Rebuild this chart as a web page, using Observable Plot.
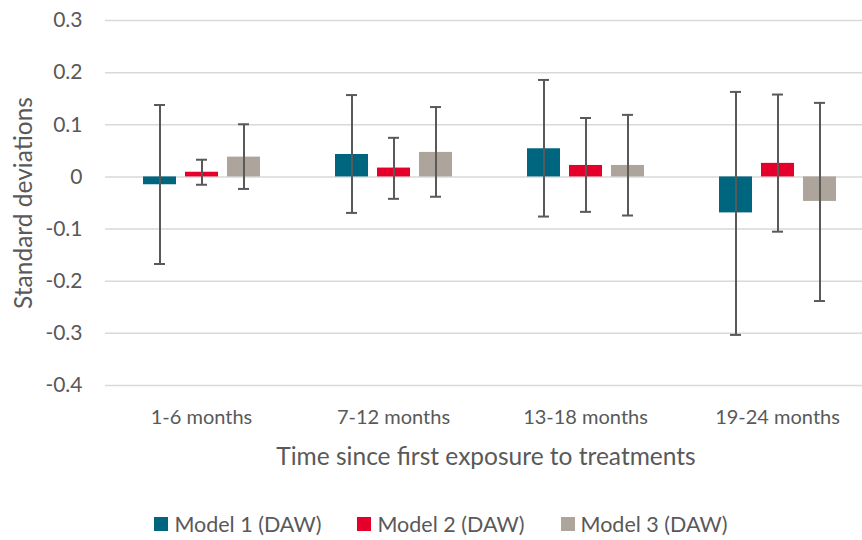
<!DOCTYPE html>
<html><head><meta charset="utf-8">
<script src="https://cdn.jsdelivr.net/npm/d3@7"></script>
<script src="https://cdn.jsdelivr.net/npm/@observablehq/plot@0.6"></script>
<style>
body{margin:0;background:#fff;font-family:Lato,"Open Sans",sans-serif;}
#wrap{position:relative;width:862px;height:540px;overflow:hidden;}
#chart{position:absolute;left:0;top:0;}
#chart g[aria-label="y-axis tick label"]{font-size:21px;}
#chart g[aria-label="fx-axis tick label"]{font-size:20px;}
#ytitle{position:absolute;left:22px;top:203px;transform:translate(-50%,-50%) rotate(-90deg);white-space:nowrap;font-size:24.5px;color:#595959;}
#xtitle{position:absolute;left:486px;top:455px;transform:translate(-50%,-50%);white-space:nowrap;font-size:24.5px;color:#595959;}
#legend{position:absolute;left:0;width:862px;top:524px;transform:translateY(-50%);display:flex;justify-content:center;align-items:center;gap:36px;font-size:21.5px;color:#595959;padding-left:20px;box-sizing:border-box;}
#legend span.sw{display:inline-block;width:14px;height:14px;margin-right:6px;}
#legend div{display:flex;align-items:center;}
</style></head>
<body><div id="wrap"><div id="chart"></div>
<div id="ytitle">Standard deviations</div>
<div id="xtitle">Time since first exposure to treatments</div>
<div id="legend"></div></div>
<script>
const groups = ["1-6 months","7-12 months","13-18 months","19-24 months"];
const models = ["Model 1 (DAW)","Model 2 (DAW)","Model 3 (DAW)"];
const colors = ["#00667F","#E4002B","#ADA59B"];
const m1 = [-0.015, 0.043, 0.054, -0.069];
const m1Lo = [-0.167, -0.069, -0.076, -0.303];
const m1Hi = [0.138, 0.157, 0.186, 0.163];
const m2 = [0.009, 0.017, 0.022, 0.026];
const m2Lo = [-0.015, -0.042, -0.067, -0.105];
const m2Hi = [0.033, 0.075, 0.113, 0.158];
const m3 = [0.038, 0.047, 0.022, -0.047];
const m3Lo = [-0.023, -0.038, -0.074, -0.238];
const m3Hi = [0.101, 0.134, 0.119, 0.142];
const yTicks = [-0.4,-0.3,-0.2,-0.1,0,0.1,0.2,0.3];

const series = [[m1,m1Lo,m1Hi],[m2,m2Lo,m2Hi],[m3,m3Lo,m3Hi]];
const data = [];
groups.forEach((g,i)=>models.forEach((m,j)=>{
  data.push({group:g, model:m, value:series[j][0][i], lo:series[j][1][i], hi:series[j][2][i]});
}));

const chart = Plot.plot({
  width: 862, height: 490,
  marginLeft: 105, marginRight: -11, marginTop: 20, marginBottom: 105,
  style: {fontFamily: "Lato, 'Open Sans', sans-serif", color: "#595959", overflow: "hidden"},
  fx: {domain: groups, padding: 0},
  x: {domain: models, paddingInner: 0.22, paddingOuter: 0.87, axis: null},
  y: {domain: [-0.4, 0.3], ticks: yTicks},
  color: {domain: models, range: colors},
  marks: [
    Plot.ruleY(yTicks, {stroke: "#D9D9D9", strokeWidth: 1.5}),
    Plot.axisY({ticks: yTicks, tickSize: 0, tickPadding: 23, tickFormat: d => d === 0 ? "0" : d.toFixed(1), label: null}),
    Plot.axisFx({anchor: "bottom", tickSize: 0, tickPadding: 24, label: null}),
    Plot.barY(data, {fx: "group", x: "model", y: "value", fill: "model"}),
    Plot.ruleX(data, {fx: "group", x: "model", y1: "lo", y2: "hi", stroke: "#595959", strokeWidth: 2}),
    Plot.tickY(data, {fx: "group", x: "model", y: "lo", stroke: "#595959", strokeWidth: 2, inset: 11}),
    Plot.tickY(data, {fx: "group", x: "model", y: "hi", stroke: "#595959", strokeWidth: 2, inset: 11})
  ]
});
document.getElementById("chart").appendChild(chart);
const lg = document.getElementById("legend");
models.forEach((m,j)=>{
  const it = document.createElement("div");
  it.innerHTML = `<span class="sw" style="background:${colors[j]}"></span>${m}`;
  lg.appendChild(it);
});
</script></body></html>
